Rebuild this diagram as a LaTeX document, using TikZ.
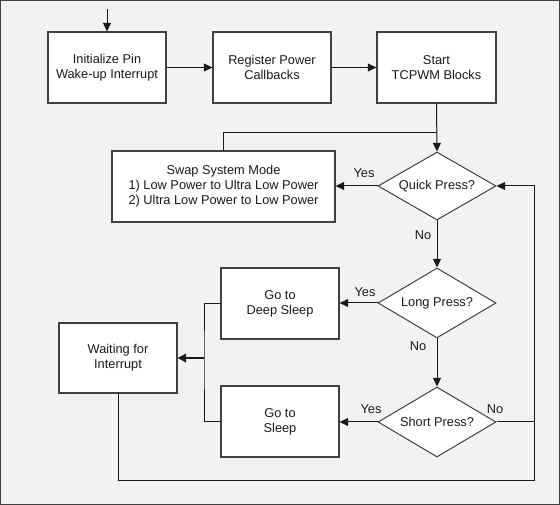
\documentclass[tikz,border=0pt]{standalone}
\usepackage{fontspec}
\setmainfont{Liberation Sans}
\usetikzlibrary{shapes.geometric,arrows.meta}
\definecolor{bg}{HTML}{F2F2F2}
\definecolor{edge}{HTML}{404040}
\definecolor{ink}{HTML}{1A1A1A}
\begin{document}
\begin{tikzpicture}[x=0.75pt,y=-0.75pt,
  txt/.style={font=\fontsize{9.6}{11.25}\selectfont,text=ink},
  box/.style={txt,draw=edge,fill=white,line width=0.85pt,minimum width=88.5pt,minimum height=53.25pt,inner sep=0pt,align=center},
  dia/.style={txt,diamond,draw=edge,fill=white,line width=0.75pt,minimum width=88.5pt,minimum height=51pt,inner sep=0pt,shape aspect=1.72},
  conn/.style={draw=ink,line width=0.75pt},
  arr/.style={conn,-{Triangle[length=6.5pt,width=6pt]}},
  lbl/.style={txt,inner sep=0pt}
]
\useasboundingbox (0,0) rectangle (560,505);
\draw[draw=edge,fill=bg,line width=1.1pt] (0.7,0.7) rectangle (559.3,504.3);

\node[box] (init) at (107,67.5) {Initialize Pin\\Wake-up Interrupt};
\node[box] (reg) at (272,67.5) {Register Power\\Callbacks};
\node[box,minimum width=89.25pt] (start) at (436.5,67.5) {Start\\TCPWM Blocks};
\node[box,minimum width=167.25pt] (swap) at (223.5,186.5) {Swap System Mode\\1) Low Power to Ultra Low Power\\2) Ultra Low Power to Low Power};
\node[dia] (quick) at (437,186) {Quick Press?};
\node[dia,minimum height=52.5pt] (long) at (437,303) {Long Press?};
\node[dia,minimum height=52.5pt] (short) at (437,422) {Short Press?};
\node[box] (deep) at (280,303.5) {Go to\\Deep Sleep};
\node[box] (sleep) at (280,421.5) {Go to\\Sleep};
\node[box,minimum height=52.5pt] (wait) at (118,358) {Waiting for\\Interrupt};

\coordinate (in) at (107,9);
\coordinate (j1) at (437,133);
\coordinate (fb) at (534,480);
\coordinate (fr) at (534,422);
\coordinate (jl) at (204,358);

\draw[arr] (in) -- (init.north);
\draw[arr] (init) -- (reg);
\draw[arr] (reg) -- (start);
\draw[arr] (start.south) -- (quick.north);
\draw[conn] (swap.north) |- (j1);
\draw[arr] (quick.west) -- (quick.west -| swap.east);
\draw[arr] (quick.south) -- (long.north);
\draw[arr] (long.west) -- (long.west -| deep.east);
\draw[arr] (long.south) -- (short.north);
\draw[arr] (short.west) -- (short.west -| sleep.east);
\draw[conn] (short.east) -- (fr);
\draw[arr] (wait.south) |- (fb) |- (quick.east);
\draw[conn] (deep.west) -| (jl) |- (sleep.west);
\draw[conn,line width=1.5pt,-{Triangle[length=6.5pt,width=6.5pt]}] (jl) -- (wait.east);

\node[lbl] (y1) at (364,173) {Yes};
\node[lbl] (n1) at (423,235) {No};
\node[lbl] (y2) at (365,292) {Yes};
\node[lbl] (n2) at (418,346) {No};
\node[lbl] (y3) at (371,409) {Yes};
\node[lbl] (n3) at (495,409) {No};
\end{tikzpicture}
\end{document}
